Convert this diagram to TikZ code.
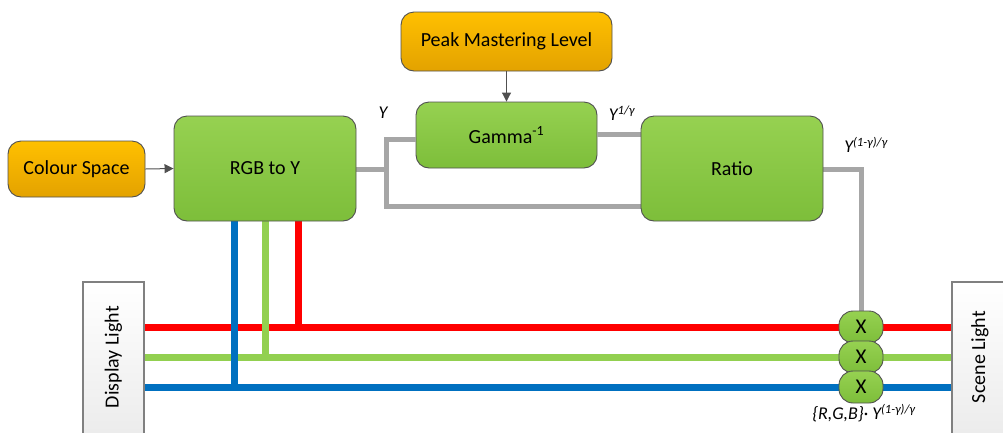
\documentclass[tikz,border=0pt]{standalone}
\usepackage{fontspec}
\setmainfont{Carlito}
\usetikzlibrary{arrows.meta}
\definecolor{gtop}{HTML}{96D151}
\definecolor{gbot}{HTML}{7DBE3A}
\definecolor{otop}{HTML}{FFC000}
\definecolor{obot}{HTML}{E3A200}
\definecolor{bord}{HTML}{505050}
\definecolor{lred}{HTML}{FF0000}
\definecolor{lgreen}{HTML}{92D050}
\definecolor{lblue}{HTML}{0070C0}
\definecolor{lgrey}{HTML}{A6A6A6}
\definecolor{ptop}{HTML}{FFFFFF}
\definecolor{pbot}{HTML}{EBEBEB}
\tikzset{
  gbox/.style={draw=bord, line width=0.9pt, rounded corners=13pt, top color=gtop, bottom color=gbot, font=\fontsize{20}{24}\selectfont, inner sep=0pt},
  obox/.style={draw=bord, line width=0.9pt, rounded corners=13pt, top color=otop, bottom color=obot, font=\fontsize{20}{24}\selectfont, inner sep=0pt},
  xbox/.style={draw=bord, line width=0.9pt, rounded corners=14pt, top color=gtop, bottom color=gbot, minimum width=44pt, minimum height=32pt, font=\fontsize{21}{24}\selectfont, inner sep=0pt},
  pbox/.style={draw=gray, line width=1.2pt, top color=ptop, bottom color=pbot},
  ptext/.style={rotate=90, font=\fontsize{20}{24}\selectfont},
  arr/.style={draw=bord, line width=1pt, -{Triangle[length=9pt,width=9pt]}},
  gline/.style={draw=lgrey, line width=5pt},
  cline/.style={line width=7pt},
  lab/.style={font=\itshape\fontsize{18}{22}\selectfont, inner sep=0pt}
}
\begin{document}
\begin{tikzpicture}[x=1pt,y=-1pt]
\useasboundingbox (0,0) rectangle (1003,432);
% coordinates
\coordinate (fork) at (386,169);
\coordinate (rtop) at (861,169);
\coordinate (vb) at (234,387);
\coordinate (vg) at (265,357);
\coordinate (vr) at (298,327);
\coordinate (rgbc) at (265,168.5);
\coordinate (ratioc) at (732,168.5);
% top boxes
\node[obox, minimum width=211pt, minimum height=59pt] (pml) at (506.5,41.5) {Peak Mastering Level};
\node[gbox, minimum width=181pt, minimum height=66pt] (gamma) at (506.5,135) {Gamma\textsuperscript{-1}};
\node[obox, minimum width=137pt, minimum height=56pt] (cs) at (76.5,169) {Colour Space};
% grey lines
\draw[gline] (356,169) -- (fork) -- (386,139) -- (gamma.west |- 0,139);
\draw[gline] (fork) -- (386,206) -- (641,206);
\draw[gline] (gamma.east |- 0,134) -- (641,134);
\draw[gline] (823,169) -- (rtop) -- (861,320);
% colour lines
\draw[cline, lred] (144,327) -- (952,327);
\draw[cline, lgreen] (144,357) -- (952,357);
\draw[cline, lblue] (144,387) -- (952,387);
\draw[cline, lblue] (234,221) -- (vb);
\draw[cline, lgreen] (265,221) -- (vg);
\draw[cline, lred] (298,221) -- (vr);
% main boxes
\node[gbox, minimum width=182pt, minimum height=105pt] (rgb) at (rgbc) {RGB to Y};
\node[gbox, minimum width=182pt, minimum height=105pt] (ratio) at (ratioc) {Ratio};
\node[xbox] (x1) at (861,327) {X};
\node[xbox] (x2) at (861,357) {X};
\node[xbox] (x3) at (861,387) {X};
\draw[pbox] (83,282) rectangle (144,440);
\node[ptext] (dl) at (113.5,357) {Display Light};
\draw[pbox] (952,282) rectangle (1010,440);
\node[ptext] (sl) at (980,357) {Scene Light};
% arrows
\draw[arr] (pml.south) -- (gamma.north);
\draw[arr] (cs.east) -- (rgb.west);
% labels
\node[lab] (ly) at (383,113) {Y};
\node[lab] (lg) at (622,113) {Y\textsuperscript{1/γ}};
\node[lab] (lr) at (866,145) {Y\textsuperscript{(1-γ)/γ}};
\node[lab] (lo) at (864,413) {\{R,G,B\}· Y\textsuperscript{(1-γ)/γ}};
\end{tikzpicture}
\end{document}
